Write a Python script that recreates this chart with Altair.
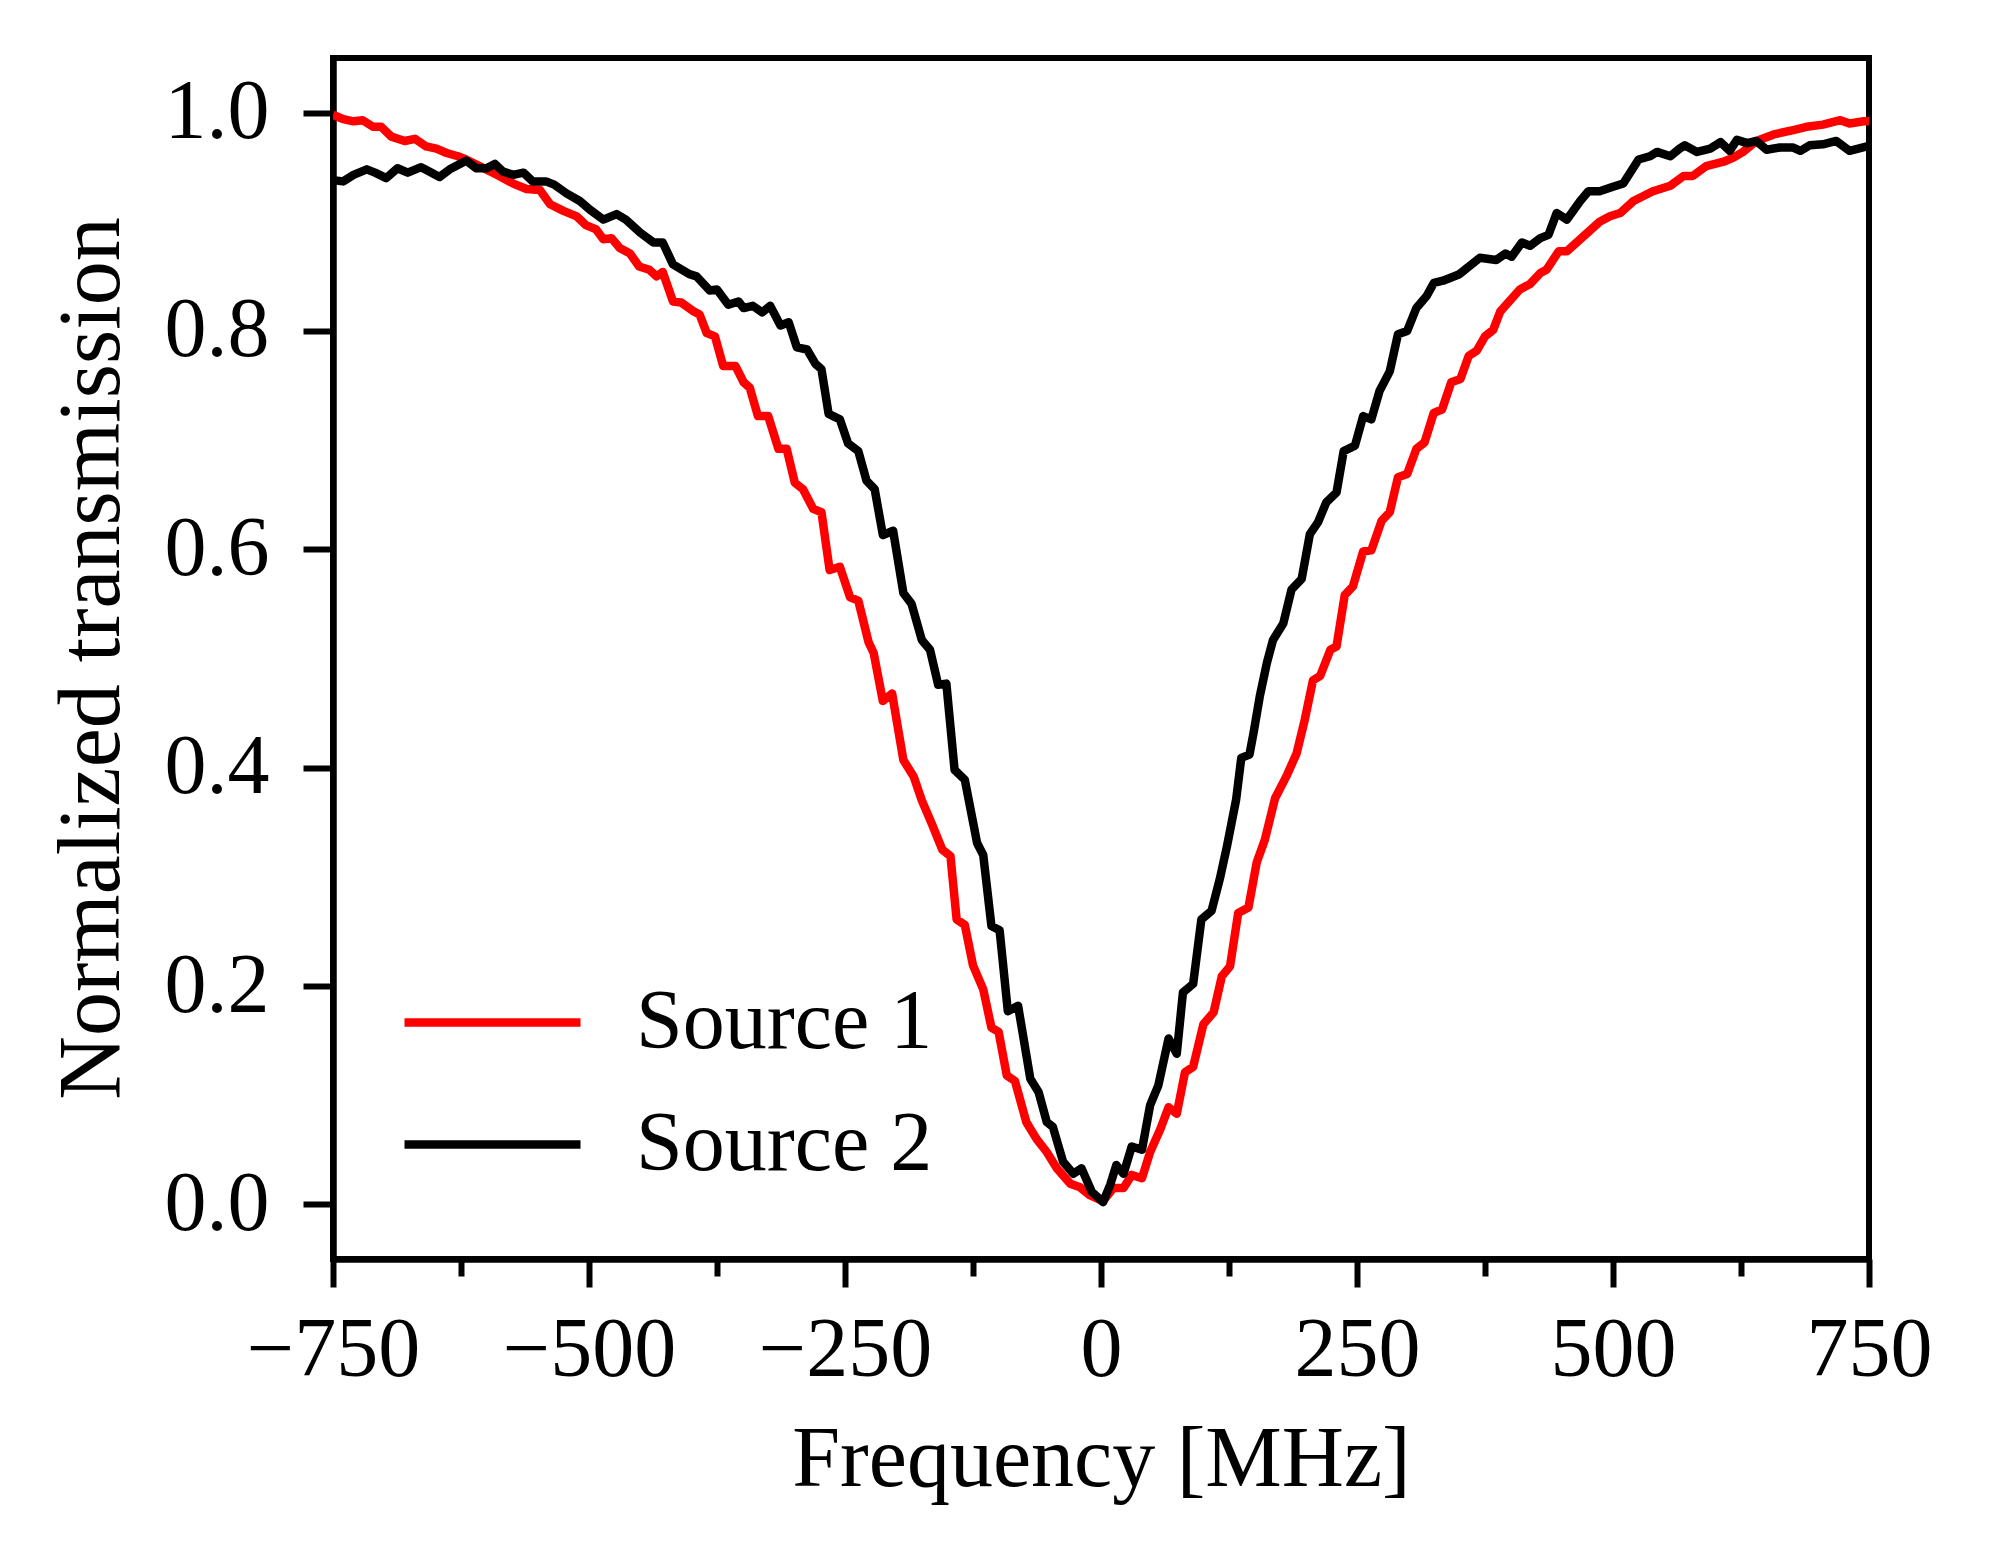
import altair as alt
import pandas as pd

# Source 1 (red)
s1_freq = [-750, -740, -730, -721, -711, -703, -693, -680, -670, -659, -649, -639, -628, -620,
           -607, -590, -574, -561, -548, -538, -525, -512, -503, -493, -486, -478, -470, -460,
           -451, -441, -434, -428, -418, -410, -398, -392, -385, -377, -369, -357, -349, -343,
           -335, -325, -315, -307, -299, -291, -281, -273, -265, -255, -245, -237, -227, -222,
           -213, -204, -193, -183, -175, -165, -155, -147, -141, -133, -125, -115, -107, -100,
           -92, -84, -73, -63, -53, -43, -30, -21, -11, 2, 12, 22, 30, 40, 48, 58, 66, 74, 82,
           90, 100, 110, 118, 126, 134, 144, 152, 160, 170, 181, 191, 199, 207, 214, 224, 230,
           238, 246, 256, 264, 274, 282, 290, 299, 308, 316, 325, 333, 342, 351, 359, 367, 375,
           383, 390, 409, 419, 429, 435, 447, 455, 468, 487, 497, 507, 520, 539, 556, 569, 578,
           591, 608, 618, 627, 640, 657, 676, 689, 705, 722, 731, 745, 750]
s1_trans = [0.998, 0.994, 0.992, 0.993, 0.987, 0.987, 0.978, 0.974, 0.976, 0.969, 0.967, 0.963,
            0.960, 0.957, 0.951, 0.943, 0.935, 0.930, 0.929, 0.916, 0.910, 0.905, 0.897, 0.893,
            0.884, 0.885, 0.876, 0.871, 0.859, 0.856, 0.850, 0.854, 0.827, 0.826, 0.818, 0.815,
            0.798, 0.795, 0.768, 0.768, 0.753, 0.748, 0.722, 0.722, 0.692, 0.692, 0.661, 0.655,
            0.637, 0.634, 0.581, 0.584, 0.556, 0.553, 0.515, 0.505, 0.461, 0.468, 0.407, 0.392,
            0.370, 0.348, 0.325, 0.319, 0.261, 0.256, 0.219, 0.197, 0.162, 0.158, 0.118, 0.113,
            0.0755, 0.060, 0.048, 0.033, 0.019, 0.016, 0.0085, 0.003, 0.015, 0.015, 0.027, 0.024,
            0.048, 0.069, 0.089, 0.083, 0.121, 0.126, 0.165, 0.176, 0.209, 0.218, 0.267, 0.272,
            0.313, 0.334, 0.372, 0.392, 0.413, 0.444, 0.480, 0.484, 0.508, 0.511, 0.558, 0.566,
            0.598, 0.599, 0.626, 0.634, 0.666, 0.669, 0.692, 0.698, 0.725, 0.728, 0.753, 0.756,
            0.777, 0.782, 0.795, 0.801, 0.818, 0.838, 0.843, 0.853, 0.856, 0.873, 0.873, 0.884,
            0.900, 0.905, 0.908, 0.919, 0.928, 0.933, 0.942, 0.942, 0.951, 0.955, 0.959, 0.964,
            0.974, 0.980, 0.984, 0.987, 0.989, 0.993, 0.990, 0.992, 0.992]

# Source 2 (black)
s2_freq = [-750, -740, -730, -717, -709, -698, -687, -677, -664, -656, -646, -636, -620, -610,
           -600, -592, -584, -574, -564, -555, -542, -534, -522, -509, -499, -486, -473, -464,
           -450, -437, -428, -418, -402, -395, -382, -375, -364, -354, -349, -340, -331, -323,
           -313, -305, -297, -287, -279, -273, -266, -255, -247, -237, -229, -221, -213, -203,
           -193, -185, -175, -167, -159, -151, -143, -133, -121, -115, -107, -99, -91, -81, -69,
           -61, -53, -47, -37, -27, -19, -9, 2, 9, 15, 22, 30, 40, 48, 56, 66, 74, 80, 90, 98,
           108, 116, 123, 132, 137, 145, 149, 155, 162, 168, 178, 186, 196, 204, 212, 220, 230,
           237, 248, 256, 264, 272, 282, 290, 299, 308, 318, 325, 334, 350, 370, 386, 395, 401,
           411, 419, 429, 437, 445, 455, 468, 476, 487, 500, 510, 525, 536, 543, 556, 565, 570,
           582, 595, 605, 614, 621, 631, 640, 650, 663, 676, 683, 692, 705, 718, 731, 748, 750]
s2_trans = [0.938, 0.937, 0.943, 0.948, 0.945, 0.940, 0.949, 0.945, 0.950, 0.946, 0.941, 0.948,
            0.956, 0.949, 0.949, 0.953, 0.946, 0.943, 0.945, 0.937, 0.937, 0.934, 0.926, 0.919,
            0.911, 0.902, 0.907, 0.902, 0.890, 0.881, 0.881, 0.861, 0.852, 0.850, 0.837, 0.838,
            0.824, 0.827, 0.821, 0.823, 0.817, 0.823, 0.805, 0.808, 0.785, 0.783, 0.770, 0.765,
            0.724, 0.719, 0.697, 0.690, 0.663, 0.655, 0.613, 0.617, 0.560, 0.550, 0.517, 0.508,
            0.476, 0.477, 0.398, 0.389, 0.331, 0.320, 0.255, 0.251, 0.177, 0.182, 0.115, 0.103,
            0.0755, 0.071, 0.039, 0.028, 0.033, 0.0116, 0.002, 0.018, 0.036, 0.028, 0.053, 0.050,
            0.091, 0.109, 0.152, 0.138, 0.194, 0.202, 0.261, 0.269, 0.298, 0.328, 0.371, 0.409,
            0.412, 0.432, 0.465, 0.496, 0.517, 0.532, 0.563, 0.573, 0.614, 0.625, 0.643, 0.652,
            0.690, 0.695, 0.722, 0.719, 0.745, 0.763, 0.797, 0.800, 0.821, 0.832, 0.844, 0.846,
            0.852, 0.867, 0.865, 0.871, 0.868, 0.881, 0.878, 0.885, 0.888, 0.908, 0.902, 0.919,
            0.928, 0.928, 0.932, 0.935, 0.957, 0.960, 0.964, 0.960, 0.967, 0.970, 0.964, 0.967,
            0.973, 0.965, 0.975, 0.972, 0.974, 0.966, 0.968, 0.968, 0.965, 0.970, 0.971, 0.974,
            0.965, 0.969, 0.969]

series_names = ["Source 1", "Source 2"]
series_colors = ["#ff0000", "#000000"]
x_ticks = [-750, -625, -500, -375, -250, -125, 0, 125, 250, 375, 500, 625, 750]
y_ticks = [0.0, 0.2, 0.4, 0.6, 0.8, 1.0]

df = pd.concat([
    pd.DataFrame({"f": s1_freq, "T": s1_trans, "source": series_names[0]}),
    pd.DataFrame({"f": s2_freq, "T": s2_trans, "source": series_names[1]}),
], ignore_index=True)

FONT = "Liberation Serif"

x_axis = alt.Axis(
    values=x_ticks, format="d",
    labelExpr="datum.value % 250 === 0 ? datum.label : ''",
    tickSize={"condition": {"test": "datum.value % 250 !== 0", "value": 17}, "value": 28},
    tickWidth=6, tickColor="black", domainColor="black", domainWidth=6.5,
    labelFont=FONT, labelFontSize=84, labelColor="black", labelBaseline="alphabetic",
    labelPadding=88, labelFlush=False, labelOverlap=False,
    title="Frequency [MHz]", titleFont=FONT, titleFontSize=86, titleFontWeight="normal",
    titleColor="black", titleBaseline="alphabetic", titleY=226, grid=False,
)
y_axis = alt.Axis(
    values=y_ticks, format=".1f",
    tickSize=30, tickWidth=6, tickColor="black", domainColor="black", domainWidth=6.5,
    labelFont=FONT, labelFontSize=84, labelColor="black", labelPadding=34,
    labelBaseline="middle", labelFlush=False, labelOverlap=False,
    title="Normalized transmission", titleFont=FONT, titleFontSize=88,
    titleFontWeight="normal", titleColor="black", titleBaseline="alphabetic",
    titleAlign="center", titleAngle=270, titleX=-215, titleY=600, grid=False,
)

legend = alt.Legend(
    orient="none", legendX=111, legendY=916, title=None,
    symbolType="M-2,0H2", symbolSize=7744, symbolStrokeWidth=8.5,
    labelFont=FONT, labelFontSize=84, labelColor="black", labelOffset=95,
    labelBaseline="middle", labelLimit=800, rowPadding=31, padding=0,
)

chart = alt.Chart(df).mark_line(strokeWidth=8.5, strokeJoin="round", clip=True).encode(
    x=alt.X("f:Q", scale=alt.Scale(domain=[-750, 750], nice=False, zero=False), axis=x_axis),
    y=alt.Y("T:Q", scale=alt.Scale(domain=[-0.05, 1.05], nice=False, zero=False), axis=y_axis),
    color=alt.Color("source:N", scale=alt.Scale(domain=series_names, range=series_colors),
                    legend=legend),
).properties(
    width=1536, height=1201,
    background="white",
    autosize=alt.AutoSizeParams(type="none"),
    padding={"left": 325, "top": 50, "right": 110, "bottom": 280},
).configure_view(stroke="black", strokeWidth=6)

chart.save("out.html", embed_options={"renderer": "svg", "actions": False})
